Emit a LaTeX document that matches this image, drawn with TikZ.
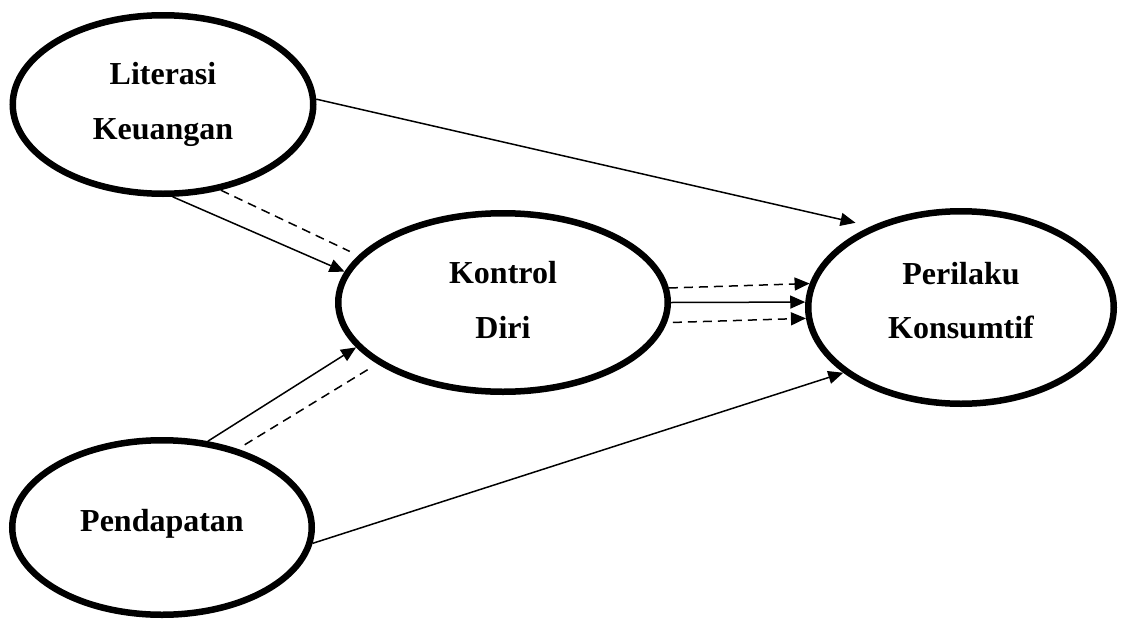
\documentclass[tikz,border=0pt]{standalone}
\usepackage{fontspec}
\setmainfont{Liberation Serif}
\usetikzlibrary{shapes.geometric,arrows.meta}
\begin{document}
\begin{tikzpicture}[x=1pt,y=-1pt,
  var/.style={ellipse,draw,line width=6.5pt,inner sep=0pt,outer sep=3.25pt,
    align=center,font=\fontsize{32}{54.5}\selectfont\bfseries},
  link/.style={line width=1.5pt,-{Triangle[length=15pt,width=13pt]}},
  dlink/.style={line width=1.5pt,dash pattern=on 9pt off 6pt}]
\useasboundingbox (0,0) rectangle (1122,624);

% latent variables
\node[var,minimum width=300.5pt,minimum height=178.5pt] (lit) at (163,104.5) {Literasi\\Keuangan};
\node[var,minimum width=329.5pt,minimum height=178.5pt,text depth=5.6pt] (kon) at (503,302.5) {Kontrol\\Diri};
\node[var,minimum width=305.5pt,minimum height=192.5pt,text depth=14.6pt] (per) at (961,307.5) {Perilaku\\Konsumtif};
\node[var,minimum width=299.5pt,minimum height=174.5pt,text depth=14pt] (pen) at (162,527.5) {Pendapatan};

% direct effects
\draw[link,shorten >=15.7pt] (lit.2.8) -- (per.138.3);
\draw[link] (lit.276.1) -- (kon.169.6);
\draw[link] (pen.62.8) -- (kon.197.8);
\draw[link] (pen.354.6) -- (per.209.9);
\draw[link] (kon.0) -- (per.178);

% mediated paths
\draw[dlink,shorten >=9.5pt] (lit.304) -- (kon.162.8);
\draw[dlink,shorten <=8pt,shorten >=6pt] (pen.46.2) -- (kon.206.2);
\draw[dlink,link] (kon.5.6) -- (per.171);
\draw[dlink,link,shorten <=6pt] (kon.353.1) -- (per.184.6);
\end{tikzpicture}
\end{document}
